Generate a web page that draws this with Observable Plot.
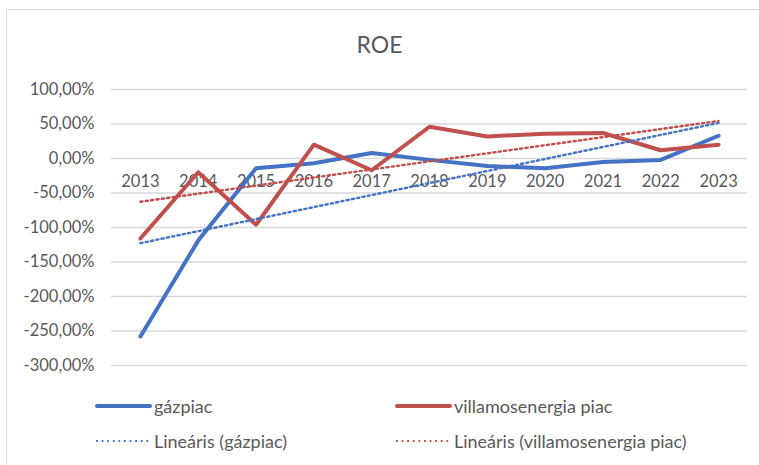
<!DOCTYPE html>
<html>
<head>
<meta charset="utf-8">
<script src="https://cdn.jsdelivr.net/npm/d3@7"></script>
<script src="https://cdn.jsdelivr.net/npm/@observablehq/plot@0.6"></script>
<style>
  html, body { margin: 0; padding: 0; background: #fff; }
  #wrap { position: relative; width: 759px; height: 465px; overflow: hidden; font-family: Lato, "Noto Sans", sans-serif; color: #595959; }
  #frame { position: absolute; left: 6px; top: 9px; width: 800px; height: 500px; border: 1.5px solid #d9d9d9; box-sizing: border-box; }
  #title { position: absolute; left: 0; width: 759px; top: 30px; text-align: center; font-size: 23px; color: #595959; }
  #chart { position: absolute; left: 0; top: 0; }
  .leg { position: absolute; display: flex; align-items: center; font-size: 18px; color: #595959; white-space: nowrap; }
  .leg svg { margin-right: 2px; }
</style>
</head>
<body>
<div id="wrap">
  <div id="frame"></div>
  <div id="chart"></div>
  <div id="title">ROE</div>
  <div id="legend"></div>
</div>
<script>
const years = [2013, 2014, 2015, 2016, 2017, 2018, 2019, 2020, 2021, 2022, 2023];
const gazpiac = [-258, -119, -14, -7, 8, -2, -11, -14, -5, -2, 33];
const villamos = [-116, -20, -96, 20, -17, 46, 32, 36, 37, 12, 20];
const yTicks = [100, 50, 0, -50, -100, -150, -200, -250, -300];
const seriesNames = ["gázpiac", "villamosenergia piac"];
const trendNames = ["Lineáris (gázpiac)", "Lineáris (villamosenergia piac)"];
const colors = ["#4472C4", "#C0504D"];

const gasData = years.map((x, i) => ({x, y: gazpiac[i]}));
const elData = years.map((x, i) => ({x, y: villamos[i]}));

const fmt = d => d.toFixed(2).replace(".", ",") + "%";

const chart = Plot.plot({
  width: 759,
  height: 465,
  marginTop: 89,
  marginBottom: 100,
  marginLeft: 111,
  marginRight: 12,
  style: {fontFamily: "Lato, 'Noto Sans', sans-serif", background: "transparent", color: "#595959"},
  x: {domain: [2012.5, 2023.5], axis: null},
  y: {domain: [-300, 100], axis: null},
  marks: [
    Plot.ruleY(yTicks, {stroke: "#d9d9d9", strokeWidth: 1.5}),
    Plot.text(yTicks, {x: 2012.5, y: d => d, text: fmt, textAnchor: "end", dx: -17, fontSize: 16.5, fill: "#595959"}),
    Plot.text(years, {x: d => d, y: 0, text: d => String(d), dy: 23, fontSize: 16.5, fill: "#595959"}),
    Plot.line(gasData, {x: "x", y: "y", stroke: colors[0], strokeWidth: 4, strokeLinejoin: "round"}),
    Plot.line(elData, {x: "x", y: "y", stroke: colors[1], strokeWidth: 4, strokeLinejoin: "round"}),
    Plot.linearRegressionY(gasData, {x: "x", y: "y", stroke: colors[0], strokeWidth: 2.4, strokeDasharray: "2.2 3.2", ci: 0, strokeOpacity: 1}),
    Plot.linearRegressionY(elData, {x: "x", y: "y", stroke: colors[1], strokeWidth: 2.4, strokeDasharray: "2.2 3.2", ci: 0, strokeOpacity: 1})
  ]
});
document.getElementById("chart").appendChild(chart);

// legend
const legend = document.getElementById("legend");
const items = [
  {name: seriesNames[0], color: colors[0], dotted: false, left: 95, top: 406},
  {name: seriesNames[1], color: colors[1], dotted: false, left: 395, top: 406},
  {name: trendNames[0], color: colors[0], dotted: true, left: 95, top: 441},
  {name: trendNames[1], color: colors[1], dotted: true, left: 395, top: 441}
];
for (const it of items) {
  const div = document.createElement("div");
  div.className = "leg";
  div.style.left = it.left + "px";
  div.style.top = (it.top - 12) + "px";
  div.style.height = "24px";
  const sw = it.dotted
    ? `<svg width="57" height="6"><line x1="1" y1="3" x2="56" y2="3" stroke="${it.color}" stroke-width="2" stroke-dasharray="1.8 3.8"/></svg>`
    : `<svg width="57" height="6"><line x1="2" y1="3" x2="55" y2="3" stroke="${it.color}" stroke-width="4" stroke-linecap="round"/></svg>`;
  div.innerHTML = sw + `<span>${it.name}</span>`;
  legend.appendChild(div);
}
</script>
</body>
</html>
